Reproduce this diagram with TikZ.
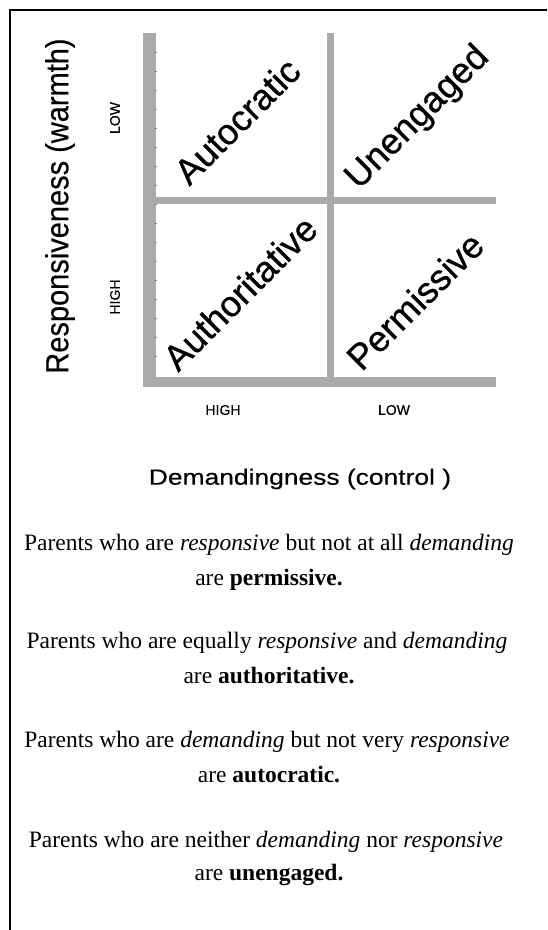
\documentclass[tikz,border=0pt]{standalone}
\usepackage{fontspec}
\setmainfont{Liberation Serif}
\newfontfamily\hel{Liberation Sans}[FakeBold=0.8]
\newfontfamily\helsmall{Liberation Sans}[FakeBold=0.4]
\definecolor{barcol}{HTML}{AAAAAA}
\begin{document}
\begin{tikzpicture}[x=1pt,y=-1pt,
  bar/.style={fill=barcol,draw=none},
  quadlabel/.style={font=\hel\fontsize{36}{40}\selectfont,rotate=45,inner sep=0pt},
  axislabel/.style={font=\helsmall\fontsize{22}{26}\selectfont,inner sep=0pt},
  levellabel/.style={font=\helsmall\fontsize{14}{16}\selectfont,inner sep=0pt},
  bodyline/.style={font=\fontsize{23.5}{28}\selectfont,inner sep=0pt,anchor=base},
  frameline/.style={draw=black,line width=1.5pt}
]
\useasboundingbox (0,0) rectangle (547,930);
\fill[white] (0,0) rectangle (547,930);
% frame
\draw[frameline] (10,930) -- (10,10) -- (547,10);
% bars
\fill[bar] (143,33) rectangle (156,387);
\fill[bar] (143,377) rectangle (496,387);
\fill[bar] (327,33) rectangle (334,377);
\fill[bar] (156,197) rectangle (496,204);
\foreach \yy in {52,71,...,372} \draw[gray!85,line width=0.6pt] (154,\yy) -- (157,\yy);
% quadrant labels
\node[quadlabel] (auto) at (237,121) {Autocratic};
\node[quadlabel] (uneng) at (418,118) {Unengaged};
\node[quadlabel] (authr) at (240,293) {Authoritative};
\node[quadlabel] (perm) at (415,301) {Permissive};
% axis labels
\node[font=\helsmall\fontsize{29}{32}\selectfont,inner sep=0pt,rotate=90,yscale=1.1] (resp) at (60,206) {Responsiveness (warmth)};
\node[axislabel,xscale=1.2] (dem) at (300,479) {Demandingness (control )};
\node[levellabel,rotate=90] (ylow) at (115,118) {LOW};
\node[levellabel,rotate=90] (yhigh) at (115,297) {HIGH};
\node[levellabel] (xhigh) at (223,410) {HIGH};
\node[levellabel] (xlow) at (394,410) {LOW};
% body text
\node[bodyline] (p1a) at (269,550) {Parents who are \textit{responsive} but not at all \textit{demanding}};
\node[bodyline] (p1b) at (269,585) {are \textbf{permissive.}};
\node[bodyline] (p2a) at (267,648) {Parents who are equally \textit{responsive} and \textit{demanding}};
\node[bodyline] (p2b) at (269,683) {are \textbf{authoritative.}};
\node[bodyline] (p3a) at (267,747) {Parents who are \textit{demanding} but not very \textit{responsive}};
\node[bodyline] (p3b) at (269,782) {are \textbf{autocratic.}};
\node[bodyline] (p4a) at (266,847) {Parents who are neither \textit{demanding} nor \textit{responsive}};
\node[bodyline] (p4b) at (269,880) {are \textbf{unengaged.}};
\end{tikzpicture}
\end{document}
